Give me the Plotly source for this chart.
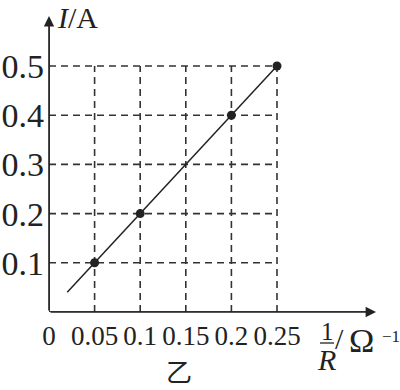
import plotly.graph_objects as go

# Data
inv_R = [0.05, 0.1, 0.2, 0.25]
current = [0.1, 0.2, 0.4, 0.5]
fit_x = [0.02, 0.25]
fit_y = [0.04, 0.5]
x_ticks = [0, 0.05, 0.1, 0.15, 0.2, 0.25]
x_labels = ["0", "0.05", "0.1", "0.15", "0.2", "0.25"]
y_ticks = [0.1, 0.2, 0.3, 0.4, 0.5]
y_labels = ["0.1", "0.2", "0.3", "0.4", "0.5"]

W, H = 400, 390
L, R, T, B = 49, 20, 10, 78
PW, PH = W - L - R, H - T - B
XS, YS = 912.0, 492.0  # px per unit
xmax = PW / XS
ymax = PH / YS

def xp(px):
    return (px - L) / PW

def yp(py):
    return (H - B - py) / PH

FONT = "Liberation Serif"
INK = "#222"
GRID = "#333"

fig = go.Figure()

# dashed grid
for yv in y_ticks:
    fig.add_trace(go.Scatter(x=[0, x_ticks[-1]], y=[yv, yv], mode="lines",
                             line=dict(color=GRID, width=1.6, dash="7px,5px"),
                             hoverinfo="skip", showlegend=False))
for xv in x_ticks[1:]:
    fig.add_trace(go.Scatter(x=[xv, xv], y=[0, y_ticks[-1]], mode="lines",
                             line=dict(color=GRID, width=1.6, dash="7px,5px"),
                             hoverinfo="skip", showlegend=False))

# fit line
fig.add_trace(go.Scatter(x=fit_x, y=fit_y, mode="lines",
                         line=dict(color=INK, width=1.5),
                         hoverinfo="skip", showlegend=False))
# points
fig.add_trace(go.Scatter(x=inv_R, y=current, mode="markers",
                         marker=dict(color=INK, size=9),
                         showlegend=False, cliponaxis=False))

annotations = []
# axes arrows
annotations.append(dict(x=(376 - L) / XS, y=0, ax=0, ay=0, xref="x", yref="y",
                        axref="x", ayref="y", showarrow=True, arrowhead=2,
                        arrowsize=1.3, arrowwidth=1.6, arrowcolor=INK, text=""))
annotations.append(dict(x=0, y=(H - B - 16) / YS, ax=0, ay=0, xref="x", yref="y",
                        axref="x", ayref="y", showarrow=True, arrowhead=2,
                        arrowsize=1.3, arrowwidth=1.6, arrowcolor=INK, text=""))

# y axis title
annotations.append(dict(x=xp(55), y=yp(17), xref="paper", yref="paper",
                        xanchor="left", yanchor="middle", showarrow=False,
                        text="<i>I</i>/A", font=dict(family=FONT, size=30, color=INK)))
# x axis title: 1/R / Ω^-1
annotations.append(dict(x=xp(327), y=yp(331), xref="paper", yref="paper",
                        xanchor="center", yanchor="middle", showarrow=False,
                        text="1", font=dict(family=FONT, size=25, color=INK)))
annotations.append(dict(x=xp(326), y=yp(359), xref="paper", yref="paper",
                        xanchor="center", yanchor="middle", showarrow=False,
                        text="<i>R</i>", font=dict(family=FONT, size=30, color=INK)))
annotations.append(dict(x=xp(333), y=yp(339), xref="paper", yref="paper",
                        xanchor="left", yanchor="middle", showarrow=False,
                        text="/", font=dict(family=FONT, size=30, color=INK)))
annotations.append(dict(x=xp(347), y=yp(340), xref="paper", yref="paper",
                        xanchor="left", yanchor="middle", showarrow=False,
                        text="Ω", font=dict(family=FONT, size=34, color=INK)))
annotations.append(dict(x=xp(380), y=yp(336), xref="paper", yref="paper",
                        xanchor="left", yanchor="middle", showarrow=False,
                        text="−1", font=dict(family=FONT, size=17, color=INK)))
# caption
annotations.append(dict(x=xp(179), y=yp(370), xref="paper", yref="paper",
                        xanchor="center", yanchor="middle", showarrow=False,
                        text="乙", font=dict(family="Noto Sans CJK SC", size=26, color=INK)))

shapes = [
    # x axis line and y axis line
    dict(type="line", xref="x", yref="y", x0=0, y0=0, x1=(370 - L) / XS, y1=0,
         line=dict(color=INK, width=1.6)),
    dict(type="line", xref="x", yref="y", x0=0, y0=0, x1=0, y1=(H - B - 22) / YS,
         line=dict(color=INK, width=1.6)),
    # fraction bar
    dict(type="line", xref="paper", yref="paper", x0=xp(320), y0=yp(343),
         x1=xp(334), y1=yp(343), line=dict(color=INK, width=1.3)),
]

fig.update_layout(
    width=W, height=H,
    margin=dict(l=L, r=R, t=T, b=B),
    paper_bgcolor="white", plot_bgcolor="white",
    xaxis=dict(range=[0, xmax], tickvals=x_ticks, ticktext=x_labels,
               showgrid=False, zeroline=False, showline=False, ticks="",
               tickfont=dict(family=FONT, size=27, color=INK), ticklabelstandoff=5,
               fixedrange=True, automargin=False),
    yaxis=dict(range=[0, ymax], tickvals=y_ticks, ticktext=y_labels,
               showgrid=False, zeroline=False, showline=False, ticks="",
               tickfont=dict(family=FONT, size=34, color=INK), ticklabelstandoff=4,
               fixedrange=True, automargin=False),
    annotations=annotations,
    shapes=shapes,
)

fig.write_html("out.html")
